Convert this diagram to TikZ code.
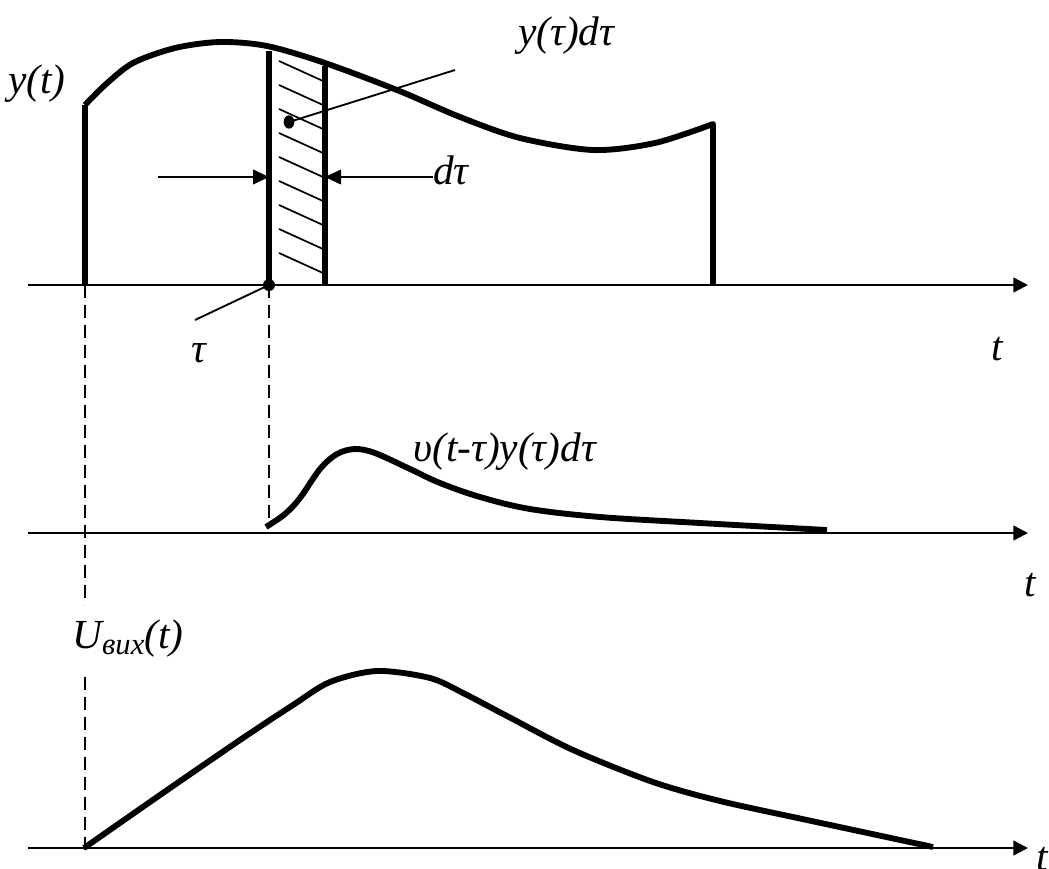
\documentclass[tikz,border=0pt]{standalone}
\usepackage{fontspec}
\setmainfont{Liberation Serif}
\usetikzlibrary{arrows.meta,shapes.geometric}
\begin{document}
\begin{tikzpicture}[x=0.75pt,y=-0.75pt,
  axis/.style={line width=1.8pt,-{Triangle[length=11pt,width=11pt]}},
  bar/.style={line width=3.9pt},
  curve/.style={line width=4.4pt,line join=round},
  thinline/.style={line width=1.4pt},
  hatch/.style={line width=1.3pt},
  dashline/.style={line width=1.4pt,dash pattern=on 9.75pt off 5.25pt},
  lbl/.style={font=\fontsize{31}{35}\selectfont\itshape,inner sep=0pt},
  dimarrow/.style={line width=1.4pt,-{Triangle[length=12pt,width=11pt]}},
  blob/.style={fill=black,ellipse,inner sep=0pt,minimum width=8pt,minimum height=10pt},
]
\useasboundingbox (0,0) rectangle (1049,868);
% axes
\coordinate (a1s) at (28,285); \coordinate (a1e) at (1028,285);
\coordinate (a2s) at (28,533); \coordinate (a2e) at (1028,533);
\coordinate (a3s) at (28,848); \coordinate (a3e) at (1028,848);
\draw[axis] (a1s) -- (a1e);
\draw[axis] (a2s) -- (a2e);
\draw[axis] (a3s) -- (a3e);
% pulse y(t)
\coordinate (p0) at (85,285); \coordinate (p1) at (85,105);
\coordinate (p2) at (713,124); \coordinate (p3) at (713,285);
\draw[curve] (p0) -- (p1)
  plot[smooth,tension=0.5] coordinates {(85,105) (105,85) (133,63) (175,48) (220,42) (267,46) (325,63) (397,90) (460,117) (520,138) (593,150) (655,143) (713,124)}
  -- (p3);
% strip
\coordinate (s1b) at (269,285); \coordinate (s1t) at (269,51);
\coordinate (s2b) at (325,285); \coordinate (s2t) at (325,66);
\draw[bar] (s1b) -- (s1t);
\draw[bar] (s2b) -- (s2t);
\foreach \k in {0,...,8} {
  \draw[hatch] (279,61+24*\k) -- (323,81+24*\k);
}
% dot and pointer to y(tau)dtau
\node[blob] (dot1) at (289,122) {};
\coordinate (ptr1) at (455,70);
\draw[thinline] (dot1.center) -- (ptr1);
% dimension arrows
\coordinate (d1s) at (158,177); \coordinate (d1e) at (269,177);
\coordinate (d2s) at (433,177); \coordinate (d2e) at (325,177);
\draw[dimarrow] (d1s) -- (d1e);
\draw[dimarrow] (d2s) -- (d2e);
% tau point
\node[fill=black,circle,inner sep=0pt,minimum size=9pt] (taudot) at (269,285) {};
\coordinate (ptr2) at (195,320);
\draw[thinline] (taudot.center) -- (ptr2);
% dashed lines
\coordinate (v1a) at (85,285); \coordinate (v1b) at (85,605);
\coordinate (v1c) at (85,677); \coordinate (v1d) at (85,854);
\coordinate (v2a) at (269,285); \coordinate (v2b) at (269,518);
\draw[dashline] (v1a) -- (v1b);
\draw[dashline] (v1c) -- (v1d);
\draw[dashline] (v2a) -- (v2b);
% impulse response
\draw[curve] plot[smooth,tension=0.55] coordinates {(266,527) (285,514) (300,498) (320,469) (337,454) (355,449) (375,453) (410,469) (440,483) (480,497) (530,509) (600,517) (700,523) (827,530)};
% output
\draw[curve] plot[smooth,tension=0.5] coordinates {(84,848) (160,795) (240,740) (293,705) (330,682) (377,671) (430,678) (465,694) (507,716) (573,750) (653,782) (720,801) (807,820) (933,847)};
% labels
\node[lbl,anchor=base west] (ly) at (8,93) {y(t)};
\node[lbl,anchor=base west] (lydt) at (518,45) {y(τ)dτ};
\node[lbl,anchor=base west] (ldt) at (433,184) {dτ};
\node[lbl,anchor=base west] (ltau) at (191,362) {τ};
\node[lbl,anchor=base west] (lt1) at (991,360) {t};
\node[lbl,anchor=base west] (lv) at (413,461) {υ(t-τ)y(τ)dτ};
\node[lbl,anchor=base west] (lt2) at (1024,596) {t};
\node[lbl,anchor=base west] (lu) at (72,648) {U\raisebox{-5pt}{\fontsize{23}{26}\selectfont вих}(t)};
\node[lbl,anchor=base west] (lt3) at (1036,870) {t};
\end{tikzpicture}
\end{document}
